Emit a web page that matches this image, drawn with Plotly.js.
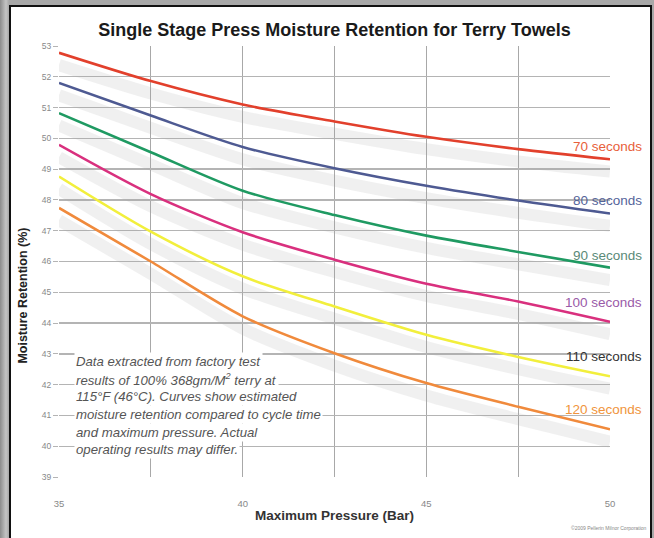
<!DOCTYPE html>
<html>
<head>
<meta charset="utf-8">
<script src="https://cdn.plot.ly/plotly-3.0.1.min.js"></script>
<style>
  html, body { margin: 0; padding: 0; width: 654px; height: 538px; overflow: hidden;
    background: linear-gradient(90deg, #8c8c8c 0px, #c4c4c4 6px, #a8a8a8 9px); }
  #frame { position: absolute; left: 9px; top: 5px; width: 639px; height: 540px;
    border: 2px solid #111; background: #ffffff; z-index: 0; }
  #chart { position: absolute; left: 0; top: 0; width: 654px; height: 538px; z-index: 1; }
</style>
</head>
<body>
<div id="frame"></div>
<div id="chart"></div>
<script>
// Maximum pressure (Bar)
const pressure = [35, 37.5, 40, 42.5, 45, 47.5, 50];
// Moisture retention (%) per cycle time
const sec70  = [52.78, 51.86, 51.10, 50.55, 50.05, 49.65, 49.32];
const sec80  = [51.80, 50.74, 49.72, 49.03, 48.46, 47.98, 47.56];
const sec90  = [50.82, 49.55, 48.30, 47.51, 46.84, 46.31, 45.80];
const sec100 = [49.79, 48.19, 46.95, 46.06, 45.28, 44.70, 44.04];
const sec110 = [48.76, 46.97, 45.52, 44.54, 43.62, 42.90, 42.27];
const sec120 = [47.74, 46.00, 44.22, 43.02, 42.05, 41.28, 40.55];
const seriesLabels = ['70 seconds', '80 seconds', '90 seconds', '100 seconds', '110 seconds', '120 seconds'];
const labelY = [49.72, 47.97, 46.21, 44.66, 42.90, 41.18];
const noteLines = [
  'Data extracted from factory test',
  'results of 100% 368gm/M<sup>2</sup> terry at',
  '115°F (46°C). Curves show estimated',
  'moisture retention compared to cycle time',
  'and maximum pressure. Actual',
  'operating results may differ.'
];

const allSeries = [sec70, sec80, sec90, sec100, sec110, sec120];
const lineColors = ['#e2402c', '#4e5a92', '#1f9a62', '#d9307e', '#f2ef3c', '#f08a3c'];
const labelColors = ['#e8603a', '#55649a', '#5a8a78', '#9a5aa8', '#333333', '#f0943c'];

const traces = [];
// soft gray shadows beneath each curve
allSeries.forEach(s => {
  traces.push({
    x: pressure, y: s.map(v => v - 0.4), mode: 'lines', type: 'scatter',
    line: { color: 'rgba(165,165,165,0.17)', width: 12, shape: 'spline', smoothing: 0.8 },
    hoverinfo: 'skip', showlegend: false
  });
});
allSeries.forEach((s, i) => {
  traces.push({
    x: pressure, y: s, mode: 'lines', type: 'scatter', name: seriesLabels[i],
    line: { color: lineColors[i], width: 2.6, shape: 'spline', smoothing: 0.8 },
    showlegend: false
  });
});

const annotations = seriesLabels.map((t, i) => ({
  x: 50, y: labelY[i], xref: 'x', yref: 'y', text: t, showarrow: false,
  xanchor: 'right', yanchor: 'middle', xshift: 34,
  font: { family: 'Liberation Sans, Arial, sans-serif', size: 13.5, color: labelColors[i] }
}));

// note text, one line per annotation, each with its own white backing
noteLines.forEach((t, i) => {
  annotations.push({
    xref: 'paper', yref: 'paper', x: 0.027, y: 0.2675 - i * 0.0408, xanchor: 'left', yanchor: 'middle',
    align: 'left', showarrow: false, bgcolor: '#ffffff', borderpad: 1,
    text: '<i>' + t + '</i>',
    font: { family: 'Liberation Sans, Arial, sans-serif', size: 13.2, color: '#555555' }
  });
});

annotations.push({
  xref: 'paper', yref: 'paper', x: -0.066, y: 0.42, xanchor: 'center', yanchor: 'middle',
  textangle: -90, showarrow: false, text: '<b>Moisture Retention (%)</b>',
  font: { family: 'Liberation Sans, Arial, sans-serif', size: 12.5, color: '#222222' }
});

annotations.push({
  xref: 'paper', yref: 'paper', x: 1.07, y: -0.118, xanchor: 'right', yanchor: 'middle',
  showarrow: false, text: '©2009 Pellerin Milnor Corporation',
  font: { family: 'Liberation Sans, Arial, sans-serif', size: 5, color: '#888888' }
});

const layout = {
  width: 654, height: 538,
  margin: { l: 59, r: 44, t: 46, b: 61, pad: 0 },
  paper_bgcolor: 'rgba(0,0,0,0)', plot_bgcolor: 'rgba(0,0,0,0)',
  title: {
    text: '<b>Single Stage Press Moisture Retention for Terry Towels</b>',
    x: 0.5, xref: 'paper', y: 0.945, yref: 'container', xanchor: 'center', yanchor: 'middle',
    font: { family: 'Liberation Sans, Arial, sans-serif', size: 18, color: '#1a1a1a' }
  },
  xaxis: {
    range: [35, 50], tickmode: 'linear', tick0: 35, dtick: 5,
    showgrid: true, gridcolor: '#a8a8a8', gridwidth: 1.3, zeroline: false, showline: false,
    minor: { tickmode: 'linear', tick0: 35, dtick: 2.5, showgrid: true, gridcolor: '#a8a8a8', gridwidth: 1.3 },
    ticks: 'outside', ticklen: 18, tickcolor: 'rgba(0,0,0,0)',
    tickfont: { family: 'Liberation Sans, Arial, sans-serif', size: 9.5, color: '#888888' },
    title: { text: '<b>Maximum Pressure (Bar)</b>', standoff: 2,
      font: { family: 'Liberation Sans, Arial, sans-serif', size: 13.5, color: '#333333' } }
  },
  yaxis: {
    range: [39, 53], tickmode: 'linear', tick0: 39, dtick: 1,
    showgrid: true, gridcolor: '#b4b4b4', gridwidth: 1.3, zeroline: false, showline: false,
    ticks: 'outside', ticklen: 5, tickcolor: '#b4b4b4', tickwidth: 1,
    tickfont: { family: 'Liberation Sans, Arial, sans-serif', size: 8.5, color: '#888888' }
  },
  annotations: annotations,
  showlegend: false
};

Plotly.newPlot('chart', traces, layout, { displayModeBar: false, staticPlot: true });
</script>
</body>
</html>
